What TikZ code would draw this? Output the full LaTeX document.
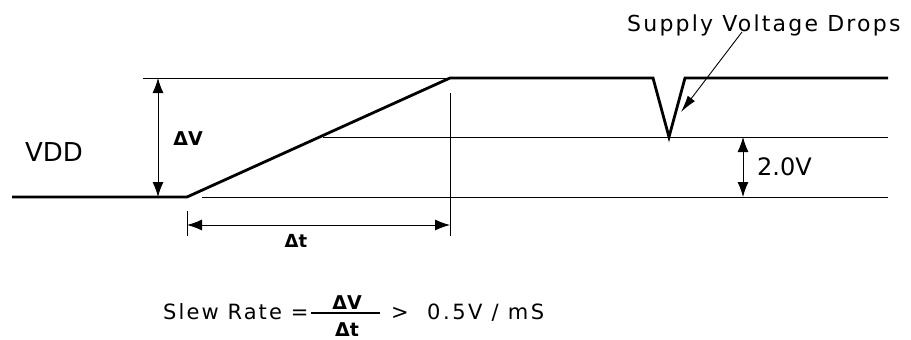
\documentclass[tikz,border=0pt]{standalone}
\usepackage{fontspec}
\setmainfont{DejaVu Sans}
\usetikzlibrary{arrows.meta}
\tikzset{
  wave/.style={line width=2.8pt, line join=miter},
  guide/.style={line width=0.9pt},
  dim/.style={line width=0.9pt, {Latex[length=15pt,width=11pt]}-{Latex[length=15pt,width=11pt]}},
  callout/.style={line width=0.9pt, -{Latex[length=17pt,width=9pt]}},
  lbl/.style={inner sep=0pt, font=\fontsize{19}{22}\selectfont},
  spaced/.style={inner sep=0pt, font=\fontsize{22}{26}\selectfont\addfontfeature{LetterSpace=10}}
}
\begin{document}
\begin{tikzpicture}[x=1pt,y=-1pt]
\useasboundingbox (0,0) rectangle (911,340);
% waveform coordinates
\coordinate (w0) at (12,197);
\coordinate (w1) at (187,197);
\coordinate (w2) at (450,78);
\coordinate (w3) at (653,78);
\coordinate (w4) at (669,137);
\coordinate (w5) at (685,78);
\coordinate (w6) at (888,78);
% guide lines
\coordinate (t0) at (143,78);
\coordinate (m0) at (323,137);
\coordinate (m1) at (888,137);
\coordinate (b0) at (202,197);
\coordinate (b1) at (888,197);
\coordinate (vl0) at (187,211);
\coordinate (vl1) at (187,236);
\coordinate (vr0) at (450,93);
\coordinate (vr1) at (450,236);
\draw[guide] (t0) -- (w2);
\draw[guide] (m0) -- (m1);
\draw[guide] (b0) -- (b1);
\draw[guide] (vl0) -- (vl1);
\draw[guide] (vr0) -- (vr1);
\draw[wave] (w0) -- (w1) -- (w2) -- (w3) -- (w4) -- (w5) -- (w6);
% dimension arrows
\coordinate (dv0) at (158,78);
\coordinate (dv1) at (158,197);
\draw[dim] (dv0) -- (dv1);
\coordinate (dt0) at (187,225);
\coordinate (dt1) at (450,225);
\draw[dim] (dt0) -- (dt1);
\coordinate (d20) at (743,137);
\coordinate (d21) at (743,197);
\draw[dim] (d20) -- (d21);
% labels
\node[lbl, font=\fontsize{26}{30}\selectfont] (vdd) at (54,152) {VDD};
\node[lbl, font=\fontsize{19}{22}\selectfont\bfseries] (dV) at (188,139) {ΔV};
\node[lbl, font=\fontsize{18}{22}\selectfont\bfseries] (dt) at (296,241) {Δt};
\node[lbl, font=\fontsize{24}{28}\selectfont, anchor=west] (two) at (757,167) {2.0V};
\node[spaced, anchor=base west] (svd) at (627,31) {Supply Voltage Drops};
\coordinate (ctip) at (681,112);
\coordinate (cstart) at (742,32);
\draw[callout] (cstart) -- (ctip);
% slew rate
\node[spaced, font=\fontsize{21}{25}\selectfont\addfontfeature{LetterSpace=10}, anchor=base west] (slew) at (163,319) {Slew Rate =};
\coordinate (f0) at (311,313);
\coordinate (f1) at (380,313);
\draw[line width=2.2pt] (f0) -- (f1);
\node[lbl, font=\fontsize{19}{22}\selectfont\bfseries, anchor=base] (num) at (347,309) {ΔV};
\node[lbl, font=\fontsize{19}{22}\selectfont\bfseries, anchor=base] (den) at (347,336) {Δt};
\node[lbl, font=\fontsize{21}{25}\selectfont, anchor=base west] (gt) at (391,319) {>};
\node[spaced, font=\fontsize{21}{25}\selectfont\addfontfeature{LetterSpace=12}, anchor=base west] (rate) at (427,319) {0.5V / mS};
\end{tikzpicture}
\end{document}
